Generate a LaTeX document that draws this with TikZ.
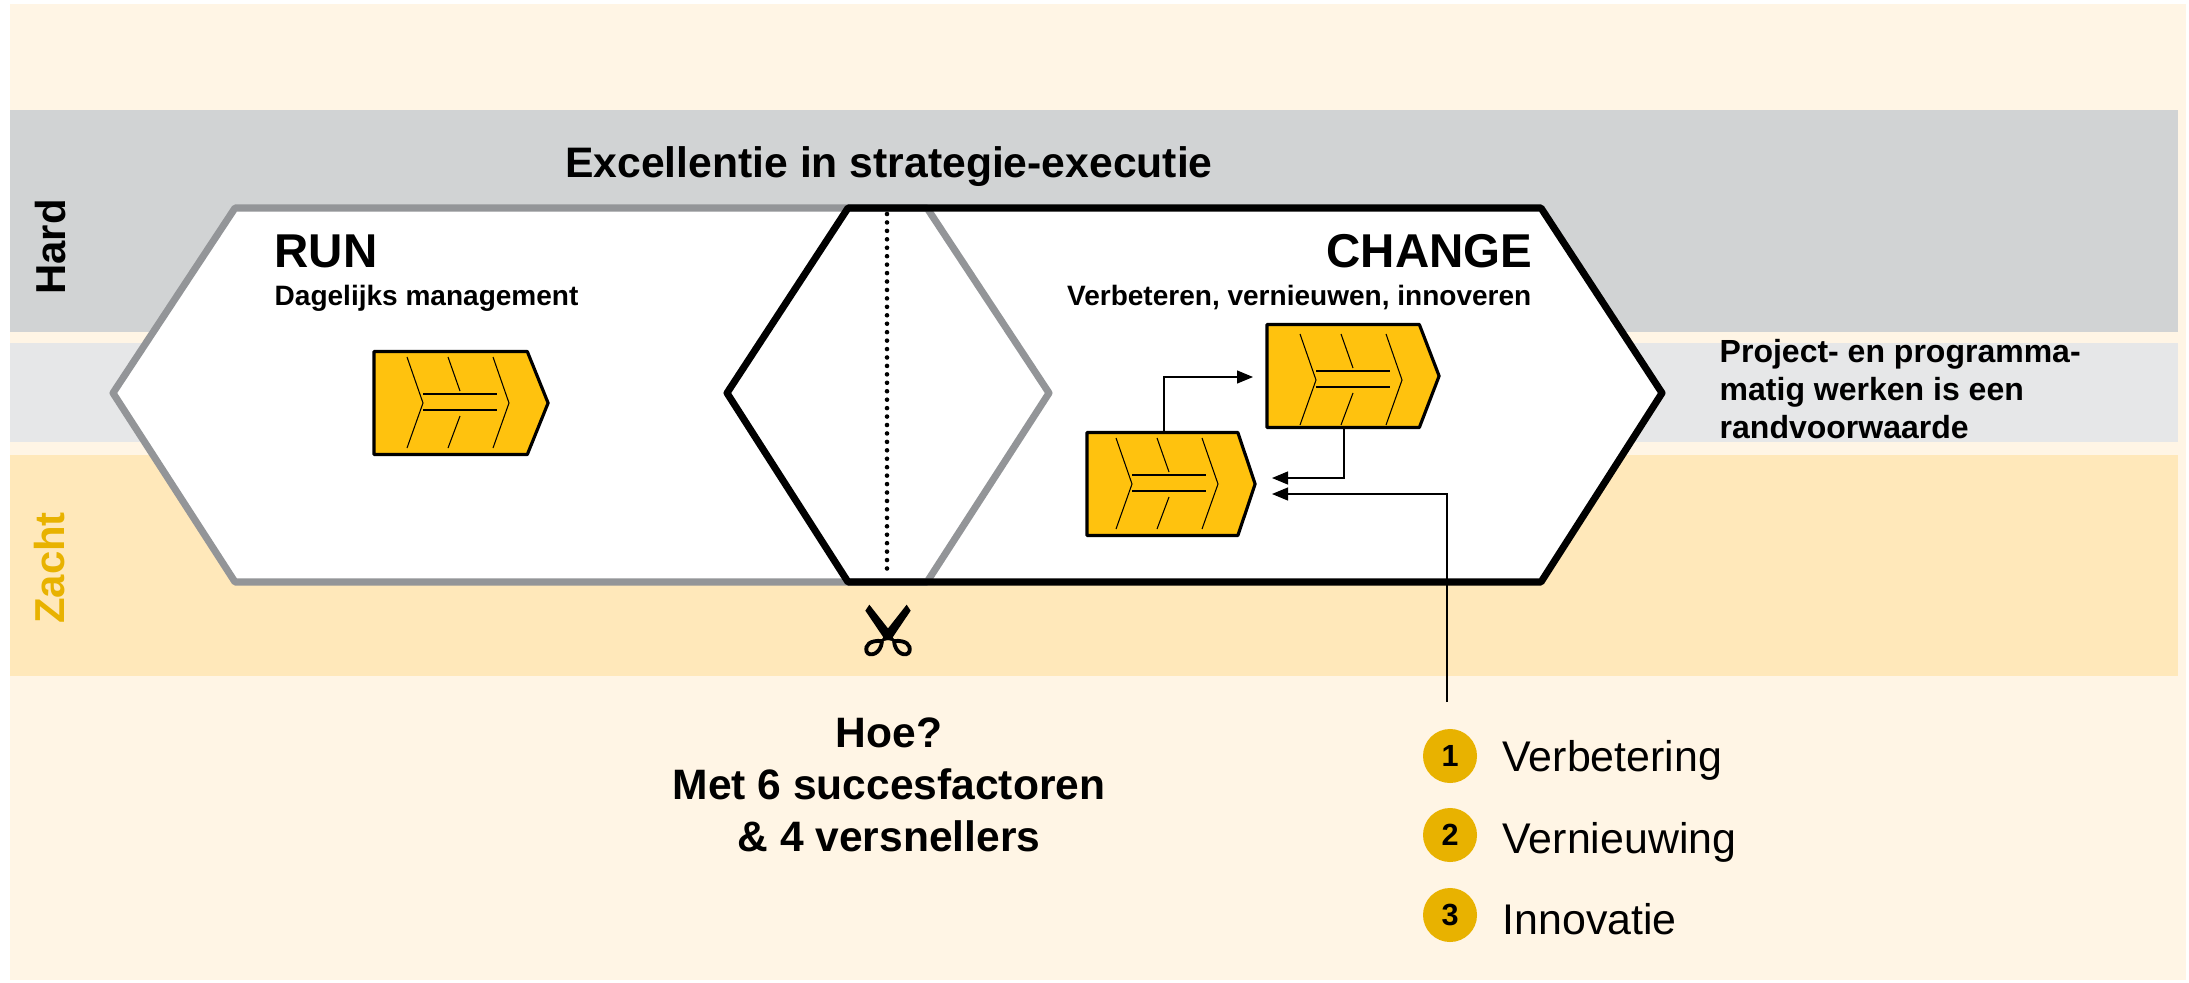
\documentclass[tikz,border=0pt]{standalone}
\usepackage{fontspec}
\setmainfont{Liberation Sans}
\usetikzlibrary{arrows.meta,shapes.symbols}

\definecolor{creamband}{HTML}{FFF5E5}
\definecolor{hardband}{HTML}{D1D3D4}
\definecolor{midband}{HTML}{E6E7E8}
\definecolor{softband}{HTML}{FFE8BA}
\definecolor{hexgray}{HTML}{939598}
\definecolor{blockfill}{HTML}{FFC20E}
\definecolor{goldtext}{HTML}{E8B200}

\tikzset{
  hexline/.style={line width=2pt, line join=round},
  blockbody/.style={draw=black, fill=blockfill, line width=0.9pt, line join=round,
    shape=signal, signal to=east, signal from=nowhere,
    minimum height=1.03cm, inner sep=0pt, outer sep=0pt, anchor=west},
  finline/.style={line width=0.3pt},
  linkline/.style={line width=0.35pt, -{Triangle[length=1.6mm,width=1.3mm]}},
  sidelabel/.style={font=\fontsize{11.9}{14}\selectfont\bfseries, rotate=90},
  headlabel/.style={font=\fontsize{13.5}{16}\selectfont\bfseries},
  sublabel/.style={font=\fontsize{7.97}{10}\selectfont\bfseries},
  bigbold/.style={font=\fontsize{12.1}{14.8}\selectfont\bfseries, align=center},
  legendnum/.style={circle, fill=goldtext, minimum size=0.54cm, inner sep=0pt,
    font=\fontsize{8.7}{10}\selectfont\bfseries},
  legendtext/.style={font=\fontsize{12.2}{14}\selectfont, anchor=base west, inner sep=0pt},
  pics/fishblock/.style n args={4}{code={
    \node[blockbody, minimum width=#1, signal pointer angle=#2] (-body) at (0,0) {};
    \begin{scope}[shift={(#3,#4)}]
      \draw[finline] (33,-46) -- (49,0) -- (33,45);
      \draw[finline] (119,-46) -- (135,0) -- (119,45);
      \draw[finline] (74,-46) -- (86,-12);
      \draw[finline] (86,13) -- (74,45);
      \draw[finline] (49,-9) -- (123,-9);
      \draw[finline] (49,7) -- (123,7);
    \end{scope}
  }}
}

\begin{document}
\begin{tikzpicture}[x=0.01cm, y=-0.01cm]
  \useasboundingbox (0,0) rectangle (2189,982);
  % bands
  \fill[creamband] (10,4) rectangle (2186,980);
  \fill[hardband] (10,110) rectangle (2178,332);
  \fill[midband] (10,343) rectangle (2178,442);
  \fill[softband] (10,455) rectangle (2178,676);

  % hexagons
  \fill[white] (113,393) -- (235,208) -- (1541,208) -- (1662,393) -- (1541,582) -- (235,582) -- cycle;
  \draw[hexline, draw=hexgray] (927,208) -- (235,208) -- (113,393) -- (235,582) -- (927,582) -- (1049,393) -- cycle;
  \draw[line width=1.3pt, line cap=round, dash pattern=on 0pt off 2.4pt] (887,214) -- (887,575);
  \draw[hexline] (848,208) -- (1541,208) -- (1662,393) -- (1541,582) -- (848,582) -- (727,393) -- cycle;

  \node[font=\fontsize{12.13}{14}\selectfont\bfseries] (title) at (889,167) {Excellentie in strategie-executie};
  \node[sidelabel] (hard) at (51,247) {Hard};
  \node[sidelabel, text=goldtext] (zacht) at (50,568) {Zacht};

  \node[headlabel, anchor=base west, inner sep=0pt] (run) at (274,267) {RUN};
  \node[sublabel, anchor=base west, inner sep=0pt] (runsub) at (274,305) {Dagelijks management};
  \node[headlabel, anchor=base east, inner sep=0pt] (change) at (1533,267) {CHANGE};
  \node[sublabel, anchor=base east, inner sep=0pt] (changesub) at (1532,305) {Verbeteren, vernieuwen, innoveren};

  \pic (runblock) at (374,403) {fishblock={1.74cm}{136}{0}{0}};
  \pic (upperblock) at (1267,376) {fishblock={1.72cm}{138}{0}{4}};
  \pic (lowerblock) at (1087,484) {fishblock={1.68cm}{143}{-4}{0}};

  % connectors
  \coordinate (lowerout) at (1164,433);
  \coordinate (upperin) at (1253,377);
  \coordinate (upperout) at (1344,428);
  \coordinate (lowerinA) at (1272,478);
  \coordinate (legendfeed) at (1447,702);
  \coordinate (lowerinB) at (1272,494);
  \draw[linkline] (lowerout) |- (upperin);
  \draw[linkline] (upperout) |- (lowerinA);
  \draw[linkline] (legendfeed) |- (lowerinB);

  \node[font=\fontsize{9.1}{10.9}\selectfont\bfseries, align=left, anchor=west, inner sep=0pt] (project) at (1719,389)
    {Project- en programma-\\matig werken is een\\randvoorwaarde};
  \node[bigbold] (hoe) at (889,785) {Hoe?\\Met 6 succesfactoren\\\& 4 versnellers};

  % scissors
  \begin{scope}[shift={(820,560)}, scale=1/3]
    \fill (148,134) -- (136,152) -- (190,232) -- (180,245) -- (205,240) -- (214,218) -- cycle;
    \fill (260,134) -- (272,152) -- (218,232) -- (228,245) -- (203,240) -- (194,218) -- cycle;
    \draw[line width=1.1pt] (186,243) .. controls (150,240) and (134,255) .. (140,275) .. controls (148,292) and (183,283) .. (186,243);
    \draw[line width=1.1pt] (222,243) .. controls (258,240) and (274,255) .. (268,275) .. controls (260,292) and (225,283) .. (222,243);
  \end{scope}

  % legend
  \foreach \num/\ypos/\ybase/\itemname in {1/756/771/Verbetering, 2/835/853/Vernieuwing, 3/915/934/Innovatie}{
    \node[legendnum] (num\num) at (1450,\ypos) {\num};
    \node[legendtext] (item\num) at (1502,\ybase) {\itemname};
  }
\end{tikzpicture}
\end{document}
